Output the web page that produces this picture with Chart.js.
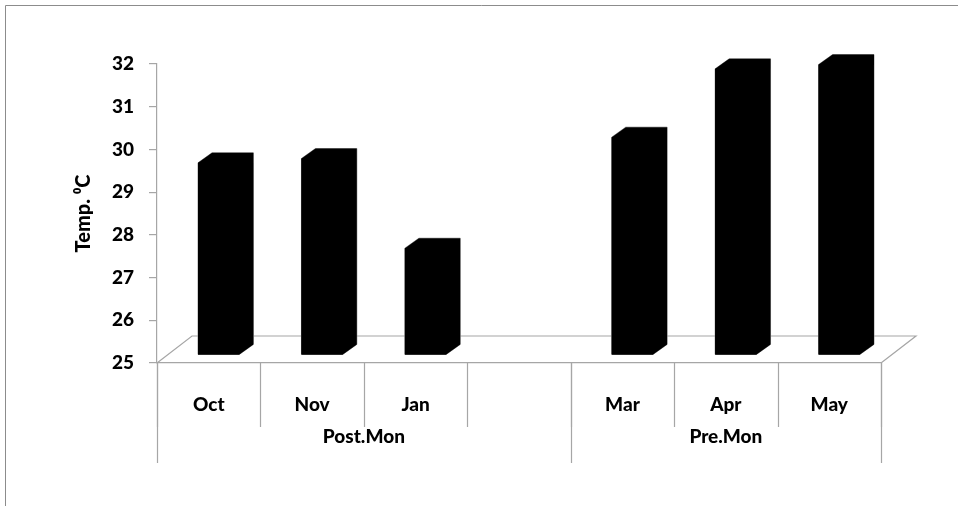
<!DOCTYPE html>
<html>
<head>
<meta charset="utf-8">
<script src="https://cdn.jsdelivr.net/npm/chart.js@4.4.0/dist/chart.umd.min.js"></script>
<style>
  html, body { margin: 0; padding: 0; background: #fff; }
  #wrap { width: 958px; height: 506px; position: relative; }
</style>
</head>
<body>
<div id="wrap"><canvas id="tempChart"></canvas></div>
<script>
// data
const months = ["Oct", "Nov", "Jan", "", "Mar", "Apr", "May"]
const temps = [29.5, 29.6, 27.5, null, 30.1, 31.7, 31.8]
const seasons = ["Post.Mon", "Pre.Mon"]
const seasonSpans = [4, 3]   // how many month slots each season covers
const yMin = 25
const yMax = 32

const gray = "#a6a6a6"
const labelFont = { family: "Lato, 'Open Sans', sans-serif", size: 19, weight: "900" }
const titleFont = { family: "Lato, 'Open Sans', sans-serif", size: 20, weight: "900" }

// fake 3D: floor depth, how far back the bar front sits, bar depth
const FLOOR_DX = 35, FLOOR_DY = 27
const BAR_DX = 10, BAR_DY = 8
const DEPTH_X = 14, DEPTH_Y = 10

const fake3d = {
  id: "fake3d",
  beforeDraw(chart) {
    // outer frame (only top/left show inside the window)
    const ctx = chart.ctx
    ctx.save()
    ctx.strokeStyle = "#8c8c8c"
    ctx.lineWidth = 1
    ctx.beginPath()
    ctx.moveTo(5.5, 506)
    ctx.lineTo(5.5, 5.5)
    ctx.lineTo(958, 5.5)
    ctx.stroke()
    ctx.restore()
  },
  beforeDatasetsDraw(chart) {
    // floor outline
    const { ctx, chartArea: a } = chart
    ctx.save()
    ctx.strokeStyle = gray
    ctx.lineWidth = 1.2
    ctx.beginPath()
    ctx.moveTo(a.left, a.bottom)
    ctx.lineTo(a.left + FLOOR_DX, a.bottom - FLOOR_DY)
    ctx.lineTo(a.right + FLOOR_DX, a.bottom - FLOOR_DY)
    ctx.lineTo(a.right, a.bottom)
    ctx.stroke()
    ctx.restore()
  },
  beforeDatasetDraw(chart, args) {
    const ctx = chart.ctx
    ctx.save()
    ctx.translate(BAR_DX, -BAR_DY)
    args.meta.data.forEach((bar, i) => {
      if (temps[i] == null) return
      const { x, y, base, width } = bar.getProps(["x", "y", "base", "width"], true)
      const l = x - width / 2
      const r = x + width / 2
      ctx.beginPath()
      ctx.moveTo(l, base)
      ctx.lineTo(l, y)
      ctx.lineTo(l + DEPTH_X, y - DEPTH_Y)
      ctx.lineTo(r + DEPTH_X, y - DEPTH_Y)
      ctx.lineTo(r + DEPTH_X, base - DEPTH_Y)
      ctx.lineTo(r, base)
      ctx.closePath()
      ctx.strokeStyle = "#9a9a9a"
      ctx.lineWidth = 1
      ctx.stroke()
      ctx.fillStyle = "#000"
      ctx.fill()
    })
  },
  afterDatasetDraw(chart) {
    chart.ctx.restore()
  },
  afterDraw(chart) {
    // month separators and the season row
    const { ctx, chartArea: a } = chart
    const xs = chart.scales.x
    ctx.save()
    ctx.strokeStyle = gray
    ctx.lineWidth = 1.2
    for (let i = 0; i <= months.length; i++) {
      const px = Math.round(xs.getPixelForValue(i - 0.5)) + 0.5
      ctx.beginPath()
      ctx.moveTo(px, a.bottom)
      ctx.lineTo(px, a.bottom + 64)
      ctx.stroke()
    }
    let start = 0
    const bounds = [0]
    seasonSpans.forEach((n) => { start += n; bounds.push(start) })
    bounds.forEach((b) => {
      const px = Math.round(xs.getPixelForValue(b - 0.5)) + 0.5
      ctx.beginPath()
      ctx.moveTo(px, a.bottom)
      ctx.lineTo(px, a.bottom + 100)
      ctx.stroke()
    })
    ctx.fillStyle = "#000"
    ctx.font = `${labelFont.weight} ${labelFont.size}px ${labelFont.family}`
    ctx.textAlign = "center"
    ctx.textBaseline = "middle"
    seasons.forEach((s, k) => {
      const x0 = xs.getPixelForValue(bounds[k] - 0.5)
      const x1 = xs.getPixelForValue(bounds[k + 1] - 0.5)
      ctx.fillText(s, (x0 + x1) / 2, a.bottom + 74)
    })
    ctx.restore()
  },
}

document.addEventListener("DOMContentLoaded", () => {
  const ctx = document.getElementById("tempChart").getContext("2d")
  new Chart(ctx, {
    type: "bar",
    data: {
      labels: months,
      datasets: [
        {
          data: temps,
          base: yMin,
          backgroundColor: "#000",
          barPercentage: 0.4,
          categoryPercentage: 1,
          clip: false,
        },
      ],
    },
    options: {
      responsive: true,
      maintainAspectRatio: false,
      animation: false,
      layout: { padding: { left: 72, right: 77, top: 64, bottom: 0 } },
      plugins: { legend: { display: false }, tooltip: { enabled: false } },
      scales: {
        x: {
          grid: { display: false, drawTicks: false },
          border: { display: true, color: gray, width: 1.2 },
          ticks: { color: "#000", font: labelFont, padding: 30 },
          afterFit: (scale) => { scale.height = 506 - 363 },
        },
        y: {
          min: yMin,
          max: yMax,
          beginAtZero: false,
          grid: { drawOnChartArea: false, drawTicks: true, tickLength: 8, color: gray, lineWidth: 1.2 },
          border: { display: true, color: gray, width: 1.2 },
          ticks: { stepSize: 1, color: "#000", font: labelFont, padding: 15 },
          title: { display: true, text: "Temp. \u2070C", color: "#000", font: titleFont, padding: 0 },
          afterFit: (scale) => { scale.width = 157 - 72 },
        },
      },
    },
    plugins: [fake3d],
  })
})
</script>
</body>
</html>
